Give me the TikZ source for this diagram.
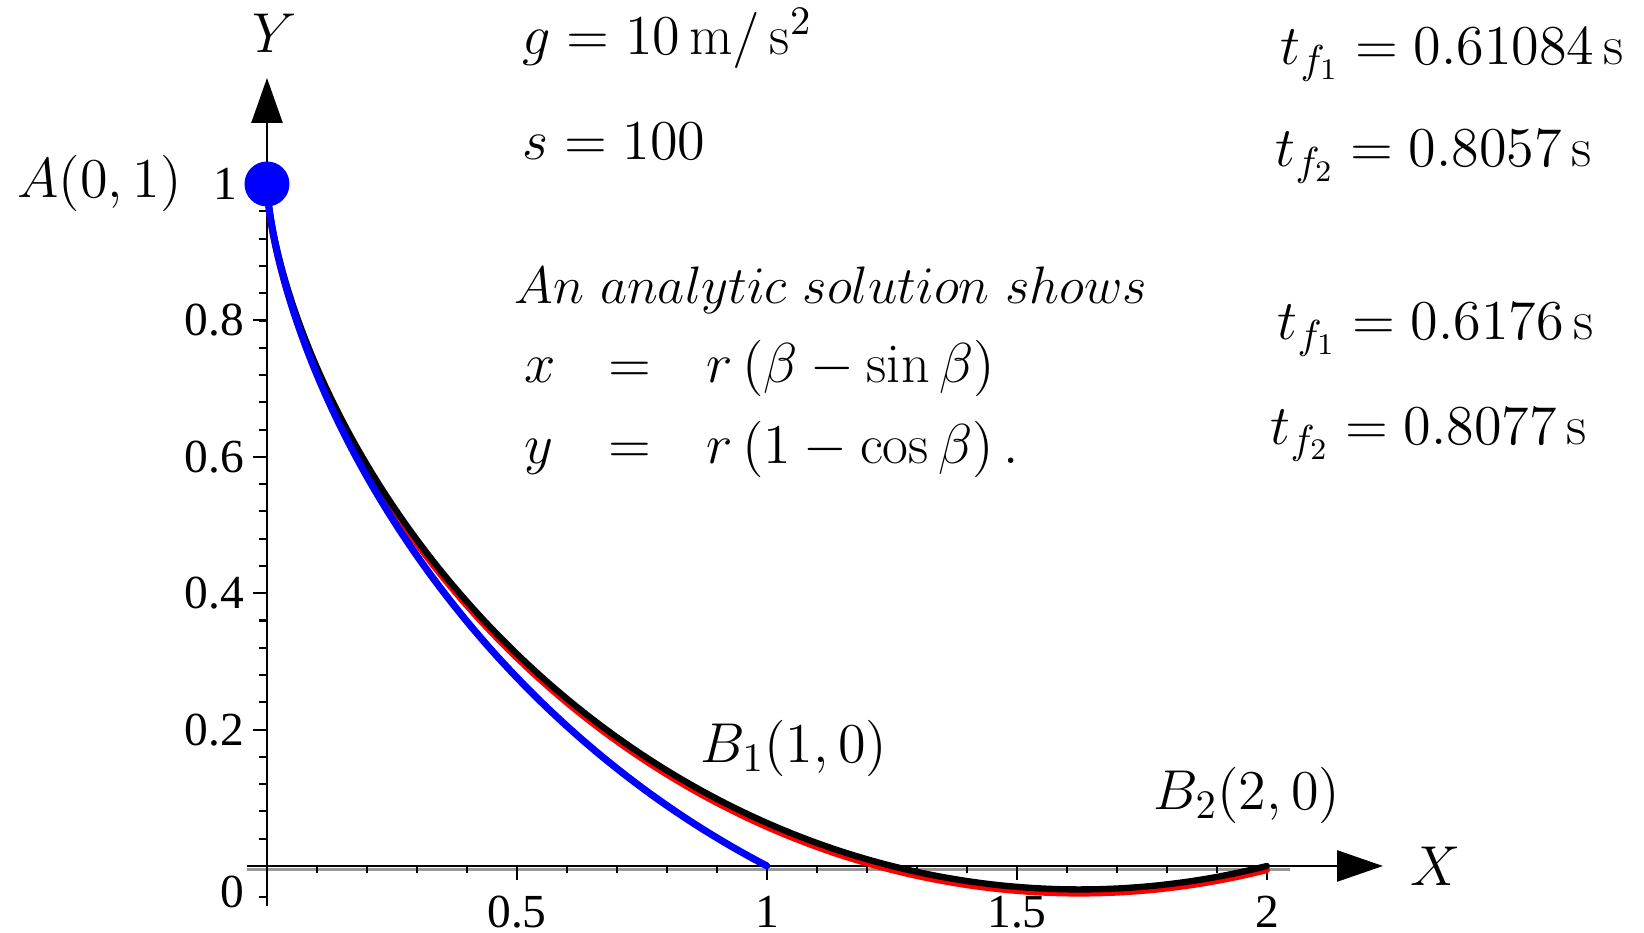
\RequirePackage{fix-cm}
\documentclass[tikz,border=0pt]{standalone}
\usepackage{fontspec}
\newfontfamily\tickfont{Liberation Serif}
\DeclareMathSizes{16}{16}{11.5}{8.5}
\usetikzlibrary{arrows.meta}
\begin{document}
\begin{tikzpicture}[
  axis/.style={line width=0.75pt, black},
  tickmark/.style={line width=0.6pt, black},
  ticklab/.style={font=\tickfont\fontsize{13.5}{15}\selectfont, inner sep=0pt},
  lab/.style={font=\fontsize{16}{19}\selectfont, inner sep=0pt, anchor=base west},
  curve/.style={line width=1.8pt, line cap=round, line join=round}
]
\useasboundingbox (-2.67,-0.67) rectangle (13.77,8.66);
\fill[white] (-2.67,-0.67) rectangle (13.77,8.66);

% gray shadow line under X axis
\coordinate (gl) at (-0.20,-0.035);
\coordinate (gr) at (10.23,-0.035);
\draw[line width=0.7pt, black!40] (gl) -- (gr);

% axes
\coordinate (yb) at (0,-0.40);
\coordinate (yt) at (0,7.88);
\coordinate (xl) at (-0.20,0);
\coordinate (xr) at (11.16,0);
\draw[axis,-{Triangle[length=0.45cm,width=0.31cm]}] (yb) -- (yt);
\draw[axis,-{Triangle[length=0.46cm,width=0.31cm]}] (xl) -- (xr);

% y ticks
\foreach \i in {1,...,24} {
  \draw[tickmark] (0,{\i*0.04*6.82}) -- ++(-0.08,0);
}
\foreach \i in {1,2,3,4} {
  \draw[tickmark] (0,{\i*0.2*6.82}) -- ++(-0.14,0);
}
\draw[tickmark] (0,-0.31) -- ++(-0.08,0);

% x ticks
\foreach \i in {1,...,20} {
  \draw[tickmark] ({\i*0.5},0) -- ++(0,-0.07);
}
\foreach \i in {1,2,3,4} {
  \draw[tickmark] ({\i*2.5},0) -- ++(0,-0.14);
}

% tick labels
\node[ticklab, anchor=east] (y0) at (-0.22,-0.26) {0};
\node[ticklab, anchor=east] (y2) at (-0.22,1.364) {0.2};
\node[ticklab, anchor=east] (y4) at (-0.22,2.728) {0.4};
\node[ticklab, anchor=east] (y6) at (-0.22,4.092) {0.6};
\node[ticklab, anchor=east] (y8) at (-0.22,5.456) {0.8};
\node[ticklab, anchor=east] (y10) at (-0.29,6.82) {1};
\node[ticklab] (x05) at (2.5,-0.46) {0.5};
\node[ticklab] (x10) at (5,-0.46) {1};
\node[ticklab] (x15) at (7.5,-0.46) {1.5};
\node[ticklab] (x20) at (10,-0.46) {2};

% curves
\begin{scope}[x=5cm, y=6.82cm]
\draw[curve, red, yshift=-0.04cm] plot[domain=0:3.5084, samples=140, smooth, variable=\t]
  ({0.5172*(\t - sin(\t r))}, {1 - 0.5172*(1 - cos(\t r))});
\draw[curve, black] plot[domain=0:3.5084, samples=140, smooth, variable=\t]
  ({0.5172*(\t - sin(\t r))}, {1 - 0.5172*(1 - cos(\t r))});
\draw[curve, blue, line width=2pt] plot[domain=0:2.412, samples=120, smooth, variable=\t]
  ({0.5729*(\t - sin(\t r))}, {1 - 0.5729*(1 - cos(\t r))});
\end{scope}

% start point
\node[circle, fill=blue, minimum size=0.45cm, inner sep=0pt] (A) at (0,6.82) {};

% axis labels
\node[font=\fontsize{16}{19}\selectfont, inner sep=0pt] (Ylab) at (0.08,8.33) {$Y$};
\node[font=\fontsize{16}{19}\selectfont, inner sep=0pt, anchor=west] (Xlab) at (11.43,0) {$X$};

% point labels
\node[lab] (Alab) at (-2.50,6.68) {$A(0,1)$};
\node[lab] (B1lab) at (4.33,1.03) {$B_1(1,0)$};
\node[lab] (B2lab) at (8.86,0.56) {$B_2(2,0)$};

% parameters
\node[lab] (g) at (2.55,8.11) {$g = 10\,\mathrm{m}/\,\mathrm{s}^2$};
\node[lab] (s) at (2.55,7.06) {$s = 100$};
\node[lab] (t1) at (10.13,8.01) {$t_{f_1} = 0.61084\,\mathrm{s}$};
\node[lab] (t2) at (10.08,6.99) {$t_{f_2} = 0.8057\,\mathrm{s}$};
\node[lab] (t3) at (10.10,5.26) {$t_{f_1} = 0.6176\,\mathrm{s}$};
\node[lab] (t4) at (10.03,4.21) {$t_{f_2} = 0.8077\,\mathrm{s}$};

% analytic solution
\node[lab, font=\fontsize{15}{18}\selectfont] (an) at (2.47,5.62) {$An\ analytic\ solution\ shows$};
\node[lab] (ex) at (2.57,4.83) {$x$};
\node[lab] (eq1) at (3.41,4.83) {$=$};
\node[lab] (rx) at (4.39,4.83) {$r\,(\beta - \sin\beta)$};
\node[lab] (ey) at (2.57,4.02) {$y$};
\node[lab] (eq2) at (3.41,4.02) {$=$};
\node[lab] (ry) at (4.39,4.02) {$r\,(1 - \cos\beta)\,.$};
\end{tikzpicture}
\end{document}
